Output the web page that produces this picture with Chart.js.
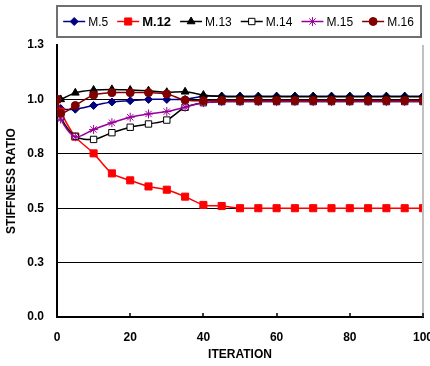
<!DOCTYPE html>
<html>
<head>
<meta charset="utf-8">
<script src="https://cdn.jsdelivr.net/npm/chart.js@4.4.1/dist/chart.umd.min.js"></script>
<style>
  html, body { margin: 0; padding: 0; background: #fff; }
  #wrap { width: 430px; height: 366px; position: relative; }
</style>
</head>
<body>
<div id="wrap"><canvas id="myChart" width="430" height="366"></canvas></div>
<script>
const iterations = [0, 1, 5, 10, 15, 20, 25, 30, 35, 40, 45, 50, 55, 60, 65, 70, 75, 80, 85, 90, 95, 100]
const m5  = [1.0, 0.958, 0.955, 0.972, 0.988, 0.994, 1.0, 1.0, 1.0, 1.015, 1.015, 1.015, 1.015, 1.015, 1.015, 1.015, 1.015, 1.015, 1.015, 1.015, 1.015, 1.015]
const m12 = [1.0, 0.944, 0.829, 0.752, 0.66, 0.628, 0.6, 0.585, 0.553, 0.515, 0.51, 0.5, 0.5, 0.5, 0.5, 0.5, 0.5, 0.5, 0.5, 0.5, 0.5, 0.5]
const m13 = [1.0, 1.0, 1.03, 1.043, 1.046, 1.043, 1.04, 1.033, 1.035, 1.02, 1.013, 1.012, 1.012, 1.012, 1.012, 1.012, 1.012, 1.012, 1.012, 1.012, 1.012, 1.012]
const m14 = [1.0, 0.92, 0.83, 0.816, 0.847, 0.872, 0.887, 0.905, 0.964, 0.985, 0.99, 0.99, 0.99, 0.99, 0.99, 0.99, 0.99, 0.99, 0.99, 0.99, 0.99, 0.99]
const m15 = [1.0, 0.91, 0.828, 0.862, 0.893, 0.918, 0.933, 0.944, 0.964, 0.985, 0.99, 0.99, 0.99, 0.99, 0.99, 0.99, 0.99, 0.99, 0.99, 0.99, 0.99, 0.99]
const m16 = [1.0, 0.936, 0.972, 1.02, 1.031, 1.031, 1.031, 1.025, 0.997, 0.994, 0.995, 0.995, 0.995, 0.995, 0.995, 0.995, 0.995, 0.995, 0.995, 0.995, 0.995, 0.995]
const yTicks = [0, 0.25, 0.5, 0.75, 1.0, 1.25]
const xTicks = [0, 20, 40, 60, 80, 100]

const toXY = vals => vals.map((v, i) => ({ x: iterations[i], y: v }))
const FONT = '"Liberation Sans", Arial, sans-serif'

const series = [
  { label: 'M.5',  data: m5,  color: '#000080', fill: '#000080', style: 'rectRot', r: 4, bold: false },
  { label: 'M.12', data: m12, color: '#ff0000', fill: '#ff0000', style: 'rect', r: 5, bold: true },
  { label: 'M.13', data: m13, color: '#000000', fill: '#000000', style: 'triangle', r: 4.5, bold: false },
  { label: 'M.14', data: m14, color: '#000000', fill: '#ffffff', style: 'rect', r: 4.5, bold: false },
  { label: 'M.15', data: m15, color: '#990099', fill: '#990099', style: 'star', r: 4.5, bold: false },
  { label: 'M.16', data: m16, color: '#800000', fill: '#800000', style: 'circle', r: 4, bold: false }
]

// legend box with line + marker, like the original
const boxLegend = {
  id: 'boxLegend',
  afterDraw(chart) {
    const ctx = chart.ctx
    const left = 57, right = 421, top = 6, bottom = 37
    ctx.save()
    ctx.strokeStyle = '#707070'
    ctx.lineWidth = 2
    ctx.strokeRect(left, top, right - left, bottom - top)
    const fontOf = ds => (ds.bold ? 'bold 13px ' : '12px ') + FONT
    const items = chart.data.datasets.map(ds => {
      ctx.font = fontOf(ds)
      return { ds, w: 22 + 4 + ctx.measureText(ds.label).width }
    })
    const gap = 8
    const total = items.reduce((s, it) => s + it.w, 0) + gap * (items.length - 1)
    let x = (left + right) / 2 - total / 2
    const y = (top + bottom) / 2
    items.forEach(it => {
      const ds = it.ds
      ctx.strokeStyle = ds.borderColor
      ctx.lineWidth = 1.5
      ctx.beginPath()
      ctx.moveTo(x, y)
      ctx.lineTo(x + 22, y)
      ctx.stroke()
      ctx.fillStyle = ds.pointBackgroundColor
      ctx.strokeStyle = ds.pointBorderColor
      ctx.lineWidth = 1
      Chart.helpers.drawPoint(ctx, { pointStyle: ds.pointStyle, radius: ds.pointRadius, borderWidth: 1 }, x + 11, y)
      ctx.fillStyle = '#000'
      ctx.font = fontOf(ds)
      ctx.textBaseline = 'middle'
      ctx.textAlign = 'left'
      ctx.fillText(ds.label, x + 25, y + 1)
      x += it.w + gap
    })
    // grey right edge of the plot and small inner ticks on the x axis
    const a = chart.chartArea
    ctx.strokeStyle = '#c0c0c0'
    ctx.lineWidth = 2
    ctx.beginPath()
    ctx.moveTo(a.right, a.top)
    ctx.lineTo(a.right, a.bottom)
    ctx.stroke()
    ctx.strokeStyle = '#000'
    ctx.lineWidth = 1.5
    const xs = chart.scales.x
    xTicks.forEach(v => {
      const px = Math.round(xs.getPixelForValue(v))
      ctx.beginPath()
      ctx.moveTo(px, a.bottom)
      ctx.lineTo(px, a.bottom - 4)
      ctx.stroke()
    })
    ctx.restore()
  }
}

const chart = new Chart(document.getElementById('myChart').getContext('2d'), {
  type: 'line',
  data: {
    datasets: series.map((s, i) => ({
      label: s.label,
      data: toXY(s.data),
      borderColor: s.color,
      backgroundColor: s.fill,
      pointBackgroundColor: s.fill,
      pointBorderColor: s.color,
      pointBorderWidth: 1,
      pointStyle: s.style,
      pointRadius: s.r,
      borderWidth: 1.5,
      tension: 0.3,
      fill: false,
      bold: s.bold,
      order: series.length - i
    }))
  },
  options: {
    responsive: false,
    animation: false,
    devicePixelRatio: 1,
    layout: { padding: { top: 45, right: 7, left: 0, bottom: 0 } },
    plugins: { legend: { display: false }, tooltip: { enabled: false } },
    scales: {
      x: {
        type: 'linear',
        min: 0,
        max: 100,
        afterBuildTicks: sc => { sc.ticks = xTicks.map(v => ({ value: v })) },
        afterFit: sc => { sc.height = 49; sc.paddingLeft = 0; sc.paddingRight = 0 },
        grid: { display: false, drawTicks: false },
        border: { color: '#000', width: 2 },
        ticks: {
          color: '#000',
          padding: 13,
          font: { family: FONT, size: 12, weight: 'bold' }
        },
        title: {
          display: true,
          text: 'ITERATION',
          color: '#000',
          padding: { top: 0, bottom: 4 },
          font: { family: FONT, size: 12, weight: 'bold' }
        }
      },
      y: {
        min: 0,
        max: 1.25,
        afterBuildTicks: sc => { sc.ticks = yTicks.map(v => ({ value: v })) },
        afterFit: sc => { sc.width = 57; sc.paddingTop = 0; sc.paddingBottom = 0 },
        grid: {
          drawTicks: false,
          lineWidth: 1,
          color: c => (c.tick.value > 0 && c.tick.value < 1.2) ? '#000' : 'rgba(0,0,0,0)'
        },
        border: { color: '#000', width: 2 },
        ticks: {
          color: '#000',
          padding: 13,
          callback: v => v.toFixed(1),
          font: { family: FONT, size: 12, weight: 'bold' }
        },
        title: {
          display: true,
          text: 'STIFFNESS RATIO',
          color: '#000',
          padding: { top: 4, bottom: 0 },
          font: { family: FONT, size: 12, weight: 'bold' }
        }
      }
    }
  },
  plugins: [boxLegend]
})
</script>
</body>
</html>
